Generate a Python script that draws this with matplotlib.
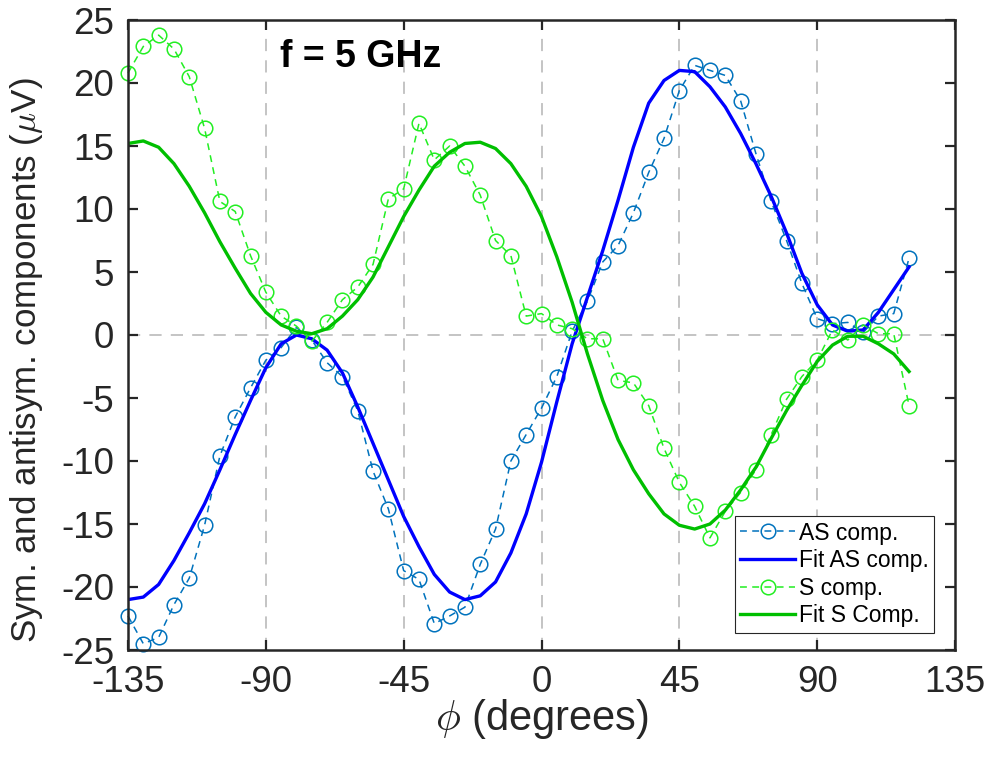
import matplotlib
matplotlib.use("Agg")
import matplotlib.pyplot as plt

plt.rcParams["font.family"] = ["Liberation Sans", "DejaVu Sans"]
plt.rcParams["mathtext.fontset"] = "cm"
plt.rcParams["axes.unicode_minus"] = False

# angle (degrees)
phi = [-135, -130, -125, -120, -115, -110, -105, -100, -95, -90, -85, -80,
       -75, -70, -65, -60, -55, -50, -45, -40, -35, -30, -25, -20,
       -15, -10, -5, 0, 5, 10, 15, 20, 25, 30, 35, 40,
       45, 50, 55, 60, 65, 70, 75, 80, 85, 90, 95, 100,
       105, 110, 115, 120]

# measured antisymmetric component (uV)
as_comp = [-22.3, -24.5, -24.0, -21.4, -19.3, -15.1, -9.6, -6.5, -4.2, -2.0, -1.0, 0.6,
           -0.4, -2.2, -3.3, -6.0, -10.8, -13.8, -18.7, -19.4, -22.9, -22.3, -21.6, -18.2,
           -15.4, -10.0, -7.9, -5.8, -3.3, 0.3, 2.7, 5.8, 7.1, 9.7, 12.9, 15.6,
           19.4, 21.4, 21.0, 20.6, 18.6, 14.4, 10.6, 7.5, 4.1, 1.3, 0.9, 1.0,
           0.2, 1.5, 1.7, 6.1]

# fitted antisymmetric component
as_fit = [-21.0, -20.8, -19.8, -17.9, -15.7, -13.4, -10.7, -7.9, -5.2, -2.6, -0.7, 0.0,
          -0.3, -1.2, -3.0, -5.7, -8.6, -11.5, -14.4, -16.8, -19.0, -20.4, -21.0, -20.7,
          -19.6, -17.3, -14.2, -10.1, -5.3, -0.7, 3.0, 6.7, 10.7, 14.9, 18.4, 20.2,
          21.0, 20.9, 19.7, 18.1, 16.0, 13.6, 11.0, 8.1, 4.9, 2.4, 0.8, 0.3,
          0.4, 1.8, 3.6, 5.4]

# measured symmetric component
s_comp = [20.8, 22.9, 23.8, 22.7, 20.5, 16.4, 10.6, 9.8, 6.3, 3.4, 1.5, 0.7,
          -0.5, 1.0, 2.8, 3.8, 5.6, 10.8, 11.6, 16.8, 13.9, 15.0, 13.4, 11.1,
          7.5, 6.3, 1.5, 1.7, 0.8, 0.5, -0.3, -0.3, -3.6, -3.8, -5.6, -9.0,
          -11.7, -13.6, -16.1, -14.0, -12.5, -10.7, -7.9, -5.1, -3.3, -2.0, 0.4, -0.4,
          0.8, 0.1, 0.1, -5.6]

# fitted symmetric component
s_fit = [15.2, 15.4, 14.9, 13.6, 11.8, 9.7, 7.4, 5.3, 3.3, 1.8, 0.8, 0.3,
         0.1, 0.5, 1.5, 2.8, 4.6, 7.0, 9.4, 11.5, 13.4, 14.5, 15.2, 15.3,
         14.8, 13.6, 11.8, 9.4, 6.2, 2.6, -1.5, -5.2, -8.3, -10.7, -12.6, -14.2,
         -15.1, -15.4, -15.0, -13.9, -12.3, -10.5, -8.2, -6.0, -4.0, -2.1, -0.8, -0.1,
         -0.1, -0.7, -1.5, -2.9]

xticks = [-135, -90, -45, 0, 45, 90, 135]
yticks = [-25, -20, -15, -10, -5, 0, 5, 10, 15, 20, 25]
vlines = [-90, -45, 0, 45, 90]

fig = plt.figure(figsize=(9.89, 7.6), dpi=100)
ax = fig.add_axes([128 / 989, 110 / 760, 827 / 989, 630 / 760])

# dashed reference lines
for v in vlines:
    ax.axvline(v, color="#b4b4b4", lw=1.1, dashes=(8, 6), zorder=0.5)
ax.axhline(0, color="#b4b4b4", lw=1.1, dashes=(8, 6), zorder=0.5)

ax.plot(phi, as_comp, color="#0072BD", lw=1.1, dashes=(4.5, 3.5), marker="o",
        ms=10.5, mfc="none", mew=1.1, label="AS comp.", clip_on=False)
ax.plot(phi, as_fit, color="#0000FF", lw=2.4, label="Fit AS comp.")
ax.plot(phi, s_comp, color="#22EE22", lw=1.1, dashes=(4.5, 3.5), marker="o",
        ms=10.5, mfc="none", mew=1.1, label="S comp.", clip_on=False)
ax.plot(phi, s_fit, color="#00BF00", lw=2.4, label="Fit S Comp.")

ax.set_xlim(-135, 135)
ax.set_ylim(-25, 25)
ax.set_xticks(xticks)
ax.set_yticks(yticks)

ax.tick_params(direction="in", length=7, width=1.6, colors="#262626",
               labelsize=26.5, top=True, right=True)
ax.tick_params(axis="x", pad=11)
ax.tick_params(axis="y", pad=10)
for s in ax.spines.values():
    s.set_linewidth(1.8)
    s.set_color("#262626")

ax.set_xlabel(r"$\phi$ (degrees)", fontsize=30, color="#262626")
ax.set_ylabel(r"Sym. and antisym. components ($\mu$V)", fontsize=25.2, color="#262626")
ax.xaxis.set_label_coords(0.5, -0.075)
ax.yaxis.set_label_coords(-0.1, 0.46)

ax.text(-85.5, 21.3, "f = 5 GHz", fontsize=27, fontweight="bold", va="baseline")

leg = ax.legend(loc="lower right", bbox_to_anchor=(0.975, 0.027), fontsize=16.5,
                handlelength=2.4, handletextpad=0.15, labelspacing=0.2,
                borderpad=0.25, borderaxespad=0, fancybox=False, framealpha=1)
leg.get_frame().set_edgecolor("#262626")
leg.get_frame().set_linewidth(0.8)

fig.savefig("out.png", dpi=100)
